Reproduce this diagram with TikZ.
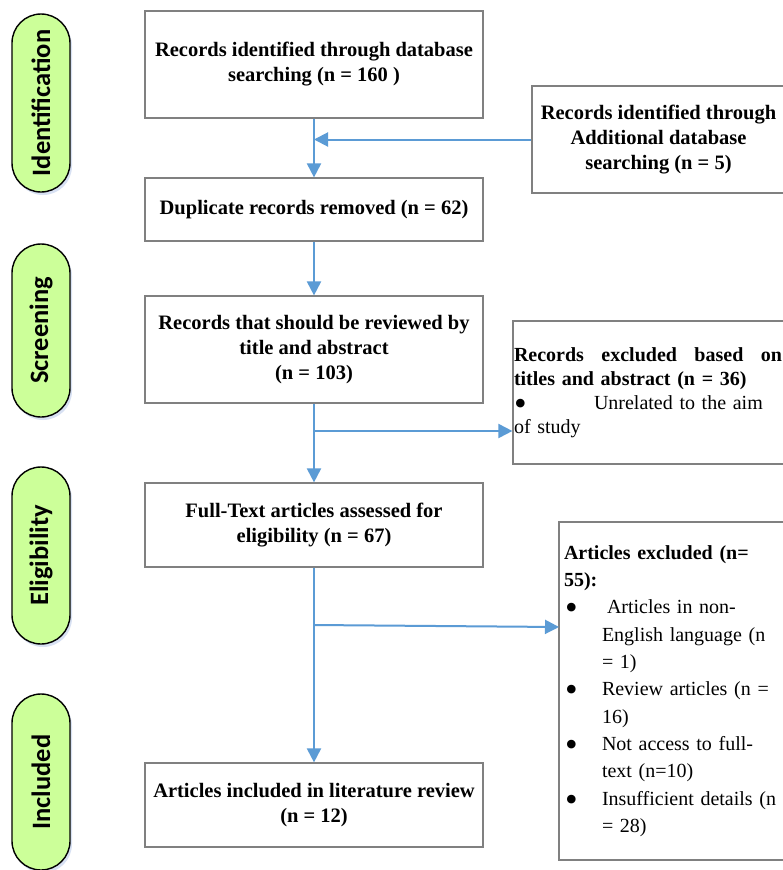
\documentclass[tikz,border=0pt]{standalone}
\usepackage{fontspec}
\usepackage{graphicx}
\setmainfont{Liberation Serif}
\newfontfamily\pillfont{Carlito}
\usetikzlibrary{arrows.meta,shadows}
\definecolor{arrowblue}{HTML}{5B9BD5}
\definecolor{boxgray}{HTML}{808080}
\definecolor{pillgreen}{RGB}{204,255,153}
\definecolor{shadowblue}{RGB}{190,205,235}
\newcommand{\bigbul}{\smash{\raisebox{-0.3em}{\scalebox{1.8}{\textbullet}}}}
\begin{document}
\begin{tikzpicture}[x=1pt,y=-1pt,
  mainbox/.style={draw=boxgray, line width=1.2pt, minimum width=338pt, align=center,
    font=\fontsize{20.5}{25}\selectfont\bfseries, inner sep=0pt},
  sidebox/.style={draw=boxgray, line width=1.2pt, align=left, anchor=center},
  pill/.style={draw=black, line width=1.4pt, fill=pillgreen, rounded corners=29pt,
    minimum height=58pt, rotate=90, inner sep=0pt,
    font=\pillfont\fontsize{26.5}{30}\selectfont\bfseries,
    drop shadow={shadow xshift=2pt, shadow yshift=-3pt, opacity=.6, fill=shadowblue}},
  flow/.style={draw=arrowblue, line width=2pt},
  arr/.style={flow, -{Triangle[length=14pt,width=14pt]}}
]
\fill[white] (0,0) rectangle (783,870);
\useasboundingbox (0,0) rectangle (783,870);

% phase labels
\node[pill, minimum width=178pt] (pid) at (41,103) {Identification};
\node[pill, minimum width=173pt] (psc) at (41,330.5) {Screening};
\node[pill, minimum width=177pt] (pel) at (41,555.5) {Eligibility};
\node[pill, minimum width=176pt] (pin) at (41,782) {Included};

% main column
\node[mainbox, minimum height=107pt] (b1) at (314,64.5)
  {Records identified through database\\searching (n = 160 )};
\node[mainbox, minimum height=63pt] (b2) at (314,209.5)
  {Duplicate records removed (n = 62)};
\node[mainbox, minimum height=107pt] (b3) at (314,349.5)
  {Records that should be reviewed by\\title and abstract\\(n = 103)};
\node[mainbox, minimum height=84pt] (b4) at (314,525)
  {Full-Text articles assessed for\\eligibility (n = 67)};
\node[mainbox, minimum height=84pt] (b5) at (314,805)
  {Articles included in literature review\\(n = 12)};

% side boxes
\node[mainbox, minimum width=253pt, minimum height=107pt] (ra) at (658.5,139.5)
  {Records identified through\\Additional database\\searching (n = 5)};

\node[sidebox, minimum width=277pt, minimum height=143pt, text width=275pt,
      inner xsep=1pt, inner ysep=0pt, font=\fontsize{20}{24}\selectfont] (e36) at (651.5,392.5)
  {\hbox to 268pt{\bfseries Records\hfill excluded\hfill based\hfill on}\\
   \textbf{titles and abstract (n = 36)}\\
   \makebox[80pt][l]{\bigbul}Unrelated to the aim\\
   of study};

\node[sidebox, minimum width=231pt, minimum height=338pt, text width=221pt,
      inner xsep=5pt, inner ysep=0pt, font=\fontsize{20}{27.3}\selectfont] (e55) at (674.5,691)
  {\textbf{Articles excluded (n=}\\
   \textbf{55):}\\
   \makebox[38pt][l]{\hspace{1pt}\bigbul}\hspace{5pt}Articles in non-\\
   \hspace*{38pt}English language (n\\
   \hspace*{38pt}= 1)\\
   \makebox[38pt][l]{\hspace{1pt}\bigbul}Review articles (n =\\
   \hspace*{38pt}16)\\
   \makebox[38pt][l]{\hspace{1pt}\bigbul}Not access to full-\\
   \hspace*{38pt}text (n=10)\\
   \makebox[38pt][l]{\hspace{1pt}\bigbul}Insufficient details (n\\
   \hspace*{38pt}= 28)};

% connectors
\draw[arr] (b1.south) -- (b2.north);
\draw[arr] (ra.west) -- (ra.west -| b1.south);
\draw[arr] (b2.south) -- (b3.north);
\draw[arr] (b3.south) -- (b4.north);
\coordinate (j2) at (314,431);
\draw[arr] (j2) -- (j2 -| e36.west);
\draw[arr] (b4.south) -- (b5.north);
\coordinate (j3) at (314,625);
\coordinate (t3) at (559,627);
\draw[arr] (j3) -- (t3);
\end{tikzpicture}
\end{document}
